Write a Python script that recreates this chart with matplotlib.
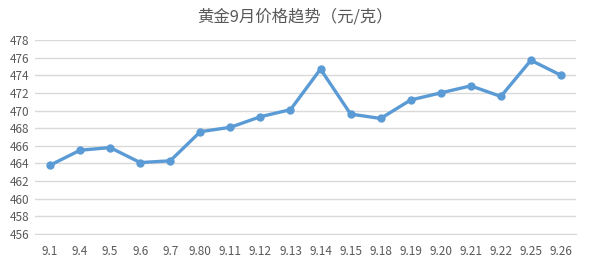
import matplotlib
matplotlib.use("Agg")
import matplotlib.pyplot as plt

plt.rcParams['font.family'] = ['Noto Sans CJK SC', 'DejaVu Sans']

dates = ["9.1", "9.4", "9.5", "9.6", "9.7", "9.80", "9.11", "9.12", "9.13",
         "9.14", "9.15", "9.18", "9.19", "9.20", "9.21", "9.22", "9.25", "9.26"]
prices = [463.8, 465.5, 465.8, 464.1, 464.3, 467.6, 468.1, 469.3, 470.1,
          474.7, 469.6, 469.1, 471.2, 472.0, 472.8, 471.6, 475.7, 474.0]
yticks = list(range(456, 480, 2))

fig = plt.figure(figsize=(5.9, 2.65), dpi=100)
ax = fig.add_axes([35 / 590, 1 - 234 / 265, 541 / 590, 194 / 265])

x = list(range(len(dates)))
ax.plot(x, prices, color="#5B9BD5", lw=2.4, marker="o", ms=5, zorder=3)

ax.set_xlim(-0.5, len(dates) - 0.5)
ax.set_ylim(456, 478)
ax.set_yticks(yticks)
ax.set_xticks(x)
ax.set_xticklabels(dates)
ax.grid(axis="y", color="#D9D9D9", lw=1)
ax.set_axisbelow(True)
for s in ["top", "right", "left"]:
    ax.spines[s].set_visible(False)
ax.spines["bottom"].set_color("#D9D9D9")
ax.tick_params(length=0, labelsize=8.5, colors="#595959")
ax.tick_params(axis="x", pad=8)
ax.tick_params(axis="y", pad=4)

fig.text(0.5, 1 - 17 / 265, "黄金9月价格趋势（元/克）", ha="center", va="center",
         fontsize=11.8, color="#595959")

fig.savefig("out.png", dpi=100)
